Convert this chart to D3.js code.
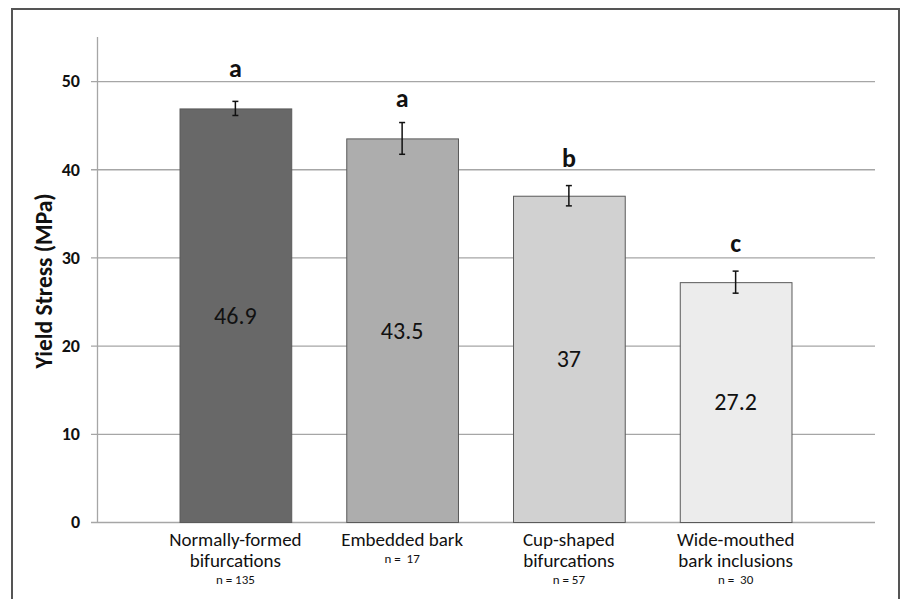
<!DOCTYPE html>
<html>
<head>
<meta charset="utf-8">
<script src="https://cdn.jsdelivr.net/npm/d3@7"></script>
<style>
  body { margin: 0; background: #fff; }
  svg { display: block; }
</style>
</head>
<body>
<div id="grafico"></div>
<script>
// datos
var categorias = [["Normally-formed", "bifurcations"], ["Embedded bark"], ["Cup-shaped", "bifurcations"], ["Wide-mouthed", "bark inclusions"]];
var n_muestra = ["n = 135", "n =  17", "n = 57", "n =  30"];
var valores = [46.9, 43.5, 37, 27.2];
var errores = [0.8, 1.8, 1.15, 1.25];
var letras = ["a", "a", "b", "c"];
var letras_pos = [50.5, 47.1, 40.3, 30.6];
var ticks_y = [0, 10, 20, 30, 40, 50];
var colores = ["#686868", "#adadad", "#d1d1d1", "#ececec"];

var width = 901, height = 599;
var fuente = "Calibri, Carlito, 'Open Sans', sans-serif";

var svg = d3.select("#grafico").append("svg")
    .attr("width", width)
    .attr("height", height);

// marco
svg.append("rect")
    .attr("x", 12).attr("y", 9)
    .attr("width", 887).attr("height", 620)
    .attr("fill", "none")
    .attr("stroke", "#555")
    .attr("stroke-width", 2);

var y = d3.scaleLinear().domain([0, 55]).range([522, 37]);
var idx = d3.range(valores.length);
var x = d3.scaleBand().domain(idx).range([152, 819])
    .paddingInner(0.33).paddingOuter(0.165);

// grilla
svg.append("g")
    .selectAll("line")
    .data(ticks_y)
    .enter().append("line")
    .attr("x1", 91).attr("x2", 875)
    .attr("y1", function(d) { return y(d) + 0.5; })
    .attr("y2", function(d) { return y(d) + 0.5; })
    .attr("stroke", "#a6a6a6")
    .attr("stroke-width", 1.3);

// eje y
svg.append("line")
    .attr("x1", 97.5).attr("x2", 97.5)
    .attr("y1", y(55)).attr("y2", y(0))
    .attr("stroke", "#a6a6a6")
    .attr("stroke-width", 1.3);

svg.append("g")
    .selectAll("text")
    .data(ticks_y)
    .enter().append("text")
    .attr("x", 80)
    .attr("y", function(d) { return y(d); })
    .attr("dy", "0.35em")
    .attr("text-anchor", "end")
    .attr("font-family", fuente)
    .attr("font-weight", "bold")
    .attr("font-size", 18)
    .attr("fill", "#111")
    .text(function(d) { return d; });

svg.append("text")
    .attr("transform", "translate(52,281) rotate(-90)")
    .attr("text-anchor", "middle")
    .attr("font-family", fuente)
    .attr("font-weight", "bold")
    .attr("font-size", 23.5)
    .attr("fill", "#111")
    .text("Yield Stress (MPa)");

// barras
svg.append("g")
    .selectAll("rect")
    .data(idx)
    .enter().append("rect")
    .attr("x", function(i) { return x(i) + 0.5; })
    .attr("y", function(i) { return y(valores[i]) + 0.5; })
    .attr("width", x.bandwidth())
    .attr("height", function(i) { return y(0) - y(valores[i]); })
    .attr("fill", function(i) { return colores[i]; })
    .attr("stroke", "#5a5a5a")
    .attr("stroke-width", 1);

// barras de error
var err = svg.append("g").attr("stroke", "#111").attr("stroke-width", 1.5);
idx.forEach(function(i) {
    var cx = x(i) + x.bandwidth() / 2;
    var top = y(valores[i] + errores[i]), bot = y(valores[i] - errores[i]);
    err.append("line").attr("x1", cx).attr("x2", cx).attr("y1", top).attr("y2", bot);
    err.append("line").attr("x1", cx - 3).attr("x2", cx + 3).attr("y1", top).attr("y2", top);
    err.append("line").attr("x1", cx - 3).attr("x2", cx + 3).attr("y1", bot).attr("y2", bot);
});

// valores dentro de barras
svg.append("g")
    .selectAll("text")
    .data(idx)
    .enter().append("text")
    .attr("x", function(i) { return x(i) + x.bandwidth() / 2; })
    .attr("y", function(i) { return (y(valores[i]) + y(0)) / 2; })
    .attr("dy", "0.35em")
    .attr("text-anchor", "middle")
    .attr("font-family", fuente)
    .attr("font-size", 24)
    .attr("fill", "#111")
    .text(function(i) { return valores[i]; });

// letras
svg.append("g")
    .selectAll("text")
    .data(idx)
    .enter().append("text")
    .attr("x", function(i) { return x(i) + x.bandwidth() / 2; })
    .attr("y", function(i) { return y(letras_pos[i]); })
    .attr("text-anchor", "middle")
    .attr("font-family", fuente)
    .attr("font-weight", "bold")
    .attr("font-size", 26)
    .attr("fill", "#111")
    .text(function(i) { return letras[i]; });

// etiquetas del eje x
var etq = svg.append("g")
    .selectAll("g")
    .data(idx)
    .enter().append("g")
    .attr("transform", function(i) {
        return "translate(" + (x(i) + x.bandwidth() / 2) + ",0)";
    });

etq.each(function(i) {
    var g = d3.select(this);
    categorias[i].forEach(function(linea, k) {
        g.append("text")
            .attr("y", 546 + k * 21)
            .attr("text-anchor", "middle")
            .attr("font-family", fuente)
            .attr("font-size", 19)
            .attr("fill", "#111")
            .text(linea);
    });
    g.append("text")
        .attr("y", 546 + (categorias[i].length - 1) * 21 + 17)
        .attr("text-anchor", "middle")
        .attr("font-family", fuente)
        .attr("font-size", 13)
        .attr("fill", "#111")
        .style("white-space", "pre")
        .text(n_muestra[i]);
});
</script>
</body>
</html>
